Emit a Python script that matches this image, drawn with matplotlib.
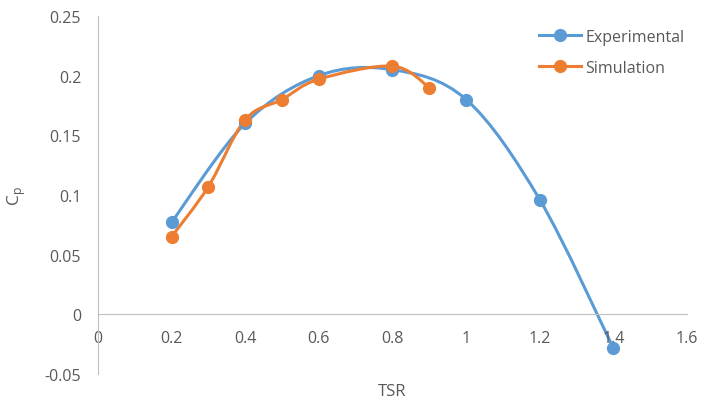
import matplotlib.pyplot as plt
import numpy as np
from matplotlib.path import Path
from matplotlib.patches import PathPatch
from matplotlib.lines import Line2D

plt.rcParams['font.family'] = ['Open Sans', 'DejaVu Sans']

exp_tsr = [0.2, 0.4, 0.6, 0.8, 1.0, 1.2, 1.4]
exp_cp = [0.077, 0.160, 0.200, 0.205, 0.180, 0.096, -0.0285]

sim_tsr = [0.2, 0.3, 0.4, 0.5, 0.6, 0.8, 0.9]
sim_cp = [0.065, 0.107, 0.163, 0.180, 0.197, 0.208, 0.190]

x_ticks = [0, 0.2, 0.4, 0.6, 0.8, 1, 1.2, 1.4, 1.6]
y_ticks = [-0.05, 0, 0.05, 0.1, 0.15, 0.2, 0.25]

blue = '#5B9BD5'
orange = '#ED7D31'
grey_text = '#595959'


def smooth_path(xs, ys):
    # Excel-style smoothed line: cubic bezier segments through the points
    p = np.column_stack([xs, ys])
    ext = np.vstack([p[0], p, p[-1]])
    verts = [p[0]]
    codes = [Path.MOVETO]
    for i in range(1, len(p)):
        p0, p1, p2, p3 = ext[i - 1], ext[i], ext[i + 1], ext[i + 2]
        c1 = p1 + (p2 - p0) / 6
        c2 = p2 - (p3 - p1) / 6
        verts += [c1, c2, p2]
        codes += [Path.CURVE4] * 3
    return Path(verts, codes)


fig = plt.figure(figsize=(7.04, 4.06), dpi=100)
ax = fig.add_axes([0.139, 0.0764, 0.837, 0.8818])

for xs, ys, c, name in [(exp_tsr, exp_cp, blue, 'Experimental'),
                        (sim_tsr, sim_cp, orange, 'Simulation')]:
    ax.add_patch(PathPatch(smooth_path(xs, ys), facecolor='none',
                           edgecolor=c, lw=2.2, capstyle='round'))
    ax.plot(xs, ys, 'o', color=c, markersize=8.5, zorder=3)

ax.set_xlim(0, 1.6)
ax.set_ylim(-0.05, 0.25)
ax.set_xticks(x_ticks)
ax.set_xticklabels(['0', '0.2', '0.4', '0.6', '0.8', '1', '1.2', '1.4', '1.6'])
ax.set_yticks(y_ticks)
ax.set_yticklabels(['-0.05', '0', '0.05', '0.1', '0.15', '0.2', '0.25'])

ax.spines['top'].set_visible(False)
ax.spines['right'].set_visible(False)
ax.spines['bottom'].set_position(('data', 0))
ax.spines['bottom'].set_color('#BFBFBF')
ax.spines['left'].set_color('#BFBFBF')
ax.tick_params(axis='both', length=0, labelsize=11.5, labelcolor=grey_text)
ax.tick_params(axis='x', pad=11)
ax.tick_params(axis='y', pad=12)

ax.set_xlabel('TSR', fontsize=12, color=grey_text, labelpad=27)
ax.set_ylabel('C$_\\mathregular{p}$', fontsize=12.5, color=grey_text, labelpad=12)

handles = [Line2D([], [], color=blue, lw=2.2, marker='o', markersize=8.5),
           Line2D([], [], color=orange, lw=2.2, marker='o', markersize=8.5)]
leg = ax.legend(handles, ['Experimental', 'Simulation'], loc='upper right',
                bbox_to_anchor=(1.02, 1.005), frameon=False, fontsize=11.5,
                handlelength=2.6, labelspacing=0.95, handletextpad=0.3)
for t in leg.get_texts():
    t.set_color(grey_text)

fig.savefig('out.png', dpi=100)
